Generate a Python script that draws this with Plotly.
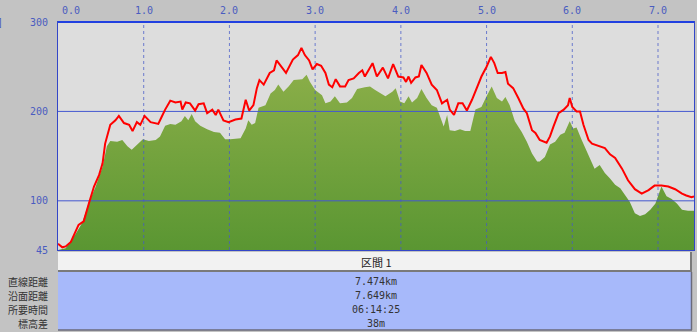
import plotly.graph_objects as go

# ---------------- data ----------------
red_km = [0.00, 0.05, 0.09, 0.15, 0.24, 0.30, 0.36, 0.42, 0.48, 0.52, 0.55, 0.61, 0.67, 0.71, 0.77, 0.83,
          0.87, 0.92, 0.96, 1.01, 1.08, 1.14, 1.17, 1.21, 1.25, 1.31, 1.37, 1.43, 1.45, 1.49, 1.54, 1.60,
          1.64, 1.70, 1.74, 1.80, 1.84, 1.87, 1.93, 1.99, 2.07, 2.14, 2.19, 2.23, 2.28, 2.32, 2.35, 2.40,
          2.47, 2.52, 2.55, 2.59, 2.66, 2.74, 2.80, 2.84, 2.88, 2.93, 2.97, 3.02, 3.07, 3.12, 3.16, 3.20,
          3.24, 3.29, 3.35, 3.39, 3.45, 3.51, 3.55, 3.58, 3.62, 3.67, 3.72, 3.79, 3.85, 3.91, 3.97, 4.03,
          4.06, 4.09, 4.12, 4.17, 4.21, 4.24, 4.30, 4.36, 4.42, 4.48, 4.54, 4.57, 4.62, 4.67, 4.72, 4.77,
          4.83, 4.89, 4.94, 5.00, 5.05, 5.09, 5.13, 5.18, 5.22, 5.25, 5.31, 5.37, 5.43, 5.47, 5.53, 5.57,
          5.62, 5.70, 5.74, 5.78, 5.84, 5.90, 5.95, 5.97, 6.00, 6.05, 6.09, 6.13, 6.19, 6.23, 6.32, 6.38,
          6.44, 6.50, 6.58, 6.65, 6.73, 6.81, 6.89, 6.96, 7.04, 7.12, 7.20, 7.28, 7.33, 7.39, 7.42]
red_alt = [52, 48, 49, 54, 73, 77, 97, 116, 129, 142, 164, 185, 190, 195, 187, 185,
           178, 188, 185, 195, 188, 187, 186, 194, 202, 212, 210, 211, 202, 210, 209, 201,
           208, 209, 198, 202, 196, 202, 190, 188, 191, 192, 213, 201, 207, 226, 235, 230,
           243, 246, 257, 252, 243, 258, 263, 271, 263, 257, 247, 253, 251, 243, 230, 227,
           236, 228, 228, 235, 237, 243, 246, 239, 246, 254, 239, 249, 237, 253, 239, 238,
           233, 239, 232, 238, 239, 252, 243, 230, 224, 209, 213, 202, 196, 209, 209, 201,
           213, 228, 239, 250, 261, 254, 243, 243, 244, 231, 226, 215, 203, 198, 179, 176,
           168, 165, 172, 183, 198, 202, 207, 215, 205, 200, 200, 185, 168, 164, 161, 159,
           152, 148, 136, 123, 113, 108, 112, 117, 117, 116, 113, 108, 106, 104, 105]

green_km = [0.00, 0.09, 0.20, 0.28, 0.36, 0.44, 0.52, 0.57, 0.61, 0.69, 0.75, 0.81, 0.86, 0.94, 0.99, 1.06,
            1.14, 1.19, 1.25, 1.31, 1.37, 1.44, 1.48, 1.52, 1.56, 1.60, 1.66, 1.74, 1.82, 1.89, 1.95, 2.01,
            2.13, 2.19, 2.22, 2.26, 2.30, 2.34, 2.42, 2.48, 2.53, 2.57, 2.63, 2.69, 2.75, 2.85, 2.90, 2.94,
            3.00, 3.08, 3.12, 3.18, 3.23, 3.29, 3.37, 3.43, 3.49, 3.58, 3.64, 3.70, 3.76, 3.82, 3.90, 3.94,
            3.99, 4.04, 4.09, 4.13, 4.19, 4.24, 4.30, 4.36, 4.42, 4.50, 4.54, 4.57, 4.63, 4.69, 4.75, 4.81,
            4.87, 4.94, 5.00, 5.06, 5.12, 5.18, 5.22, 5.27, 5.33, 5.41, 5.47, 5.53, 5.59, 5.62, 5.68, 5.74,
            5.80, 5.86, 5.91, 5.97, 6.01, 6.05, 6.11, 6.17, 6.23, 6.26, 6.32, 6.38, 6.44, 6.50, 6.56, 6.61,
            6.67, 6.73, 6.79, 6.85, 6.91, 6.97, 7.04, 7.10, 7.16, 7.22, 7.28, 7.35, 7.42]
green_alt = [45, 47, 62, 75, 98, 116, 138, 161, 167, 166, 168, 161, 157, 164, 169, 167,
             168, 172, 184, 186, 185, 189, 195, 190, 197, 189, 184, 180, 177, 176, 169, 169,
             170, 181, 190, 185, 187, 204, 207, 220, 224, 230, 222, 228, 235, 236, 241, 233,
             224, 218, 209, 211, 217, 209, 210, 215, 225, 227, 228, 224, 220, 217, 222, 226,
             211, 209, 217, 210, 215, 225, 215, 207, 204, 183, 196, 179, 178, 180, 178, 178,
             202, 205, 217, 228, 215, 211, 216, 207, 189, 177, 166, 153, 144, 144, 149, 163,
             166, 174, 176, 189, 181, 182, 168, 155, 144, 136, 140, 131, 125, 118, 114, 107,
             99, 86, 83, 85, 90, 97, 116, 105, 102, 97, 90, 89, 89]

x_ticks = [0, 1, 2, 3, 4, 5, 6, 7]
x_tick_labels = ["0.0", "1.0", "2.0", "3.0", "4.0", "5.0", "6.0", "7.0"]
y_ticks = [45, 100, 200, 300]
y_tick_labels = ["45", "100", "200", "300"]
y_grid = [100, 200]

section_title = "区間 1"
row_labels = ["直線距離", "沿面距離", "所要時間", "標高差"]
row_values = ["7.474km", "7.649km", "06:14:25", "38m"]

X_MAX = 7.42
Y_MIN, Y_MAX = 45, 300

# ---------------- layout helpers (pixel -> paper) ----------------
W, H = 697, 332
L, R, T, B = 58, 694, 22, 250
def px_x(p):
    return (p - L) / (R - L)
def px_y(p):
    return (B - p) / (B - T)

NUM_FONT = "DejaVu Sans Mono"
JP_FONT = "Noto Sans CJK JP"
BLUE = "#3346c8"
TICK_BLUE = "#4a5cc0"

fig = go.Figure()

# green terrain with vertical gradient
fig.add_trace(go.Scatter(
    x=green_km, y=green_alt, mode="lines", fill="tozeroy",
    line=dict(width=0, color="#7aa23e"),
    fillgradient=dict(type="vertical", start=Y_MIN, stop=260,
                      colorscale=[[0, "#5a9632"], [1, "#8eb04a"]]),
    hoverinfo="skip", showlegend=False,
))

# gridlines drawn above the terrain (built from tick arrays)
for v in x_ticks[1:]:
    fig.add_trace(go.Scatter(x=[v, v], y=[Y_MIN, Y_MAX], mode="lines",
                             line=dict(color="rgba(70,90,200,0.75)", width=1, dash="dot"),
                             hoverinfo="skip", showlegend=False))
for v in y_grid:
    fig.add_trace(go.Scatter(x=[0, X_MAX], y=[v, v], mode="lines",
                             line=dict(color="#4558d0", width=1),
                             hoverinfo="skip", showlegend=False))

# red track
fig.add_trace(go.Scatter(
    x=red_km, y=red_alt, mode="lines",
    line=dict(color="#ff0000", width=2),
    hoverinfo="skip", showlegend=False,
))

fig.update_layout(
    width=W, height=H,
    margin=dict(l=L, r=W - R, t=T, b=H - B, pad=0),
    paper_bgcolor="#c3c3c3",
    plot_bgcolor="#dddddd",
    showlegend=False,
    xaxis=dict(range=[0, X_MAX], showgrid=False, zeroline=False,
               showticklabels=False, ticks="",
               showline=True, linecolor=BLUE, linewidth=1, mirror=True),
    yaxis=dict(range=[Y_MIN, Y_MAX], showgrid=False, zeroline=False,
               tickvals=y_ticks, ticktext=y_tick_labels, ticks="",
               ticklabelstandoff=7,
               tickfont=dict(family=NUM_FONT, size=10, color=TICK_BLUE),
               showline=True, linecolor=BLUE, linewidth=1, mirror=True),
)

shapes = []
# thicker top border
shapes.append(dict(type="line", xref="paper", yref="paper", x0=0, x1=1,
                   y0=px_y(22), y1=px_y(22), line=dict(color="#2040e0", width=2)))
# section title band
shapes.append(dict(type="rect", xref="paper", yref="paper",
                   x0=px_x(58), x1=px_x(692), y0=px_y(271.5), y1=px_y(252),
                   fillcolor="#f2f2f2", line=dict(width=0), layer="above"))
shapes.append(dict(type="line", xref="paper", yref="paper", x0=px_x(58), x1=px_x(692),
                   y0=px_y(271), y1=px_y(271), line=dict(color="#7a7a7a", width=2), layer="above"))
shapes.append(dict(type="line", xref="paper", yref="paper", x0=px_x(691), x1=px_x(691),
                   y0=px_y(252), y1=px_y(272), line=dict(color="#7a7a7a", width=2), layer="above"))
# values band
shapes.append(dict(type="rect", xref="paper", yref="paper",
                   x0=px_x(58), x1=px_x(692), y0=px_y(330), y1=px_y(272),
                   fillcolor="#a7b9fa", line=dict(width=0), layer="above"))
shapes.append(dict(type="line", xref="paper", yref="paper", x0=px_x(58), x1=px_x(692),
                   y0=px_y(330), y1=px_y(330), line=dict(color="#6a6a7a", width=1.5), layer="above"))
shapes.append(dict(type="line", xref="paper", yref="paper", x0=px_x(691.5), x1=px_x(691.5),
                   y0=px_y(272), y1=px_y(330), line=dict(color="#6a6a7a", width=1.5), layer="above"))
fig.update_layout(shapes=shapes)

ann = []
# top x tick labels
for i, (v, lab) in enumerate(zip(x_ticks, x_tick_labels)):
    ann.append(dict(x=v, y=px_y(11), xref="x", yref="paper", text=lab, showarrow=False,
                    xanchor="left" if i == 0 else "center", yanchor="middle",
                    xshift=2 if i == 0 else 0,
                    font=dict(family=NUM_FONT, size=10, color=TICK_BLUE)))
# partially visible unit label
ann.append(dict(x=px_x(5), y=px_y(22), xref="paper", yref="paper", text="[m]", showarrow=False,
                xanchor="right", yanchor="middle",
                font=dict(family=NUM_FONT, size=10, color=TICK_BLUE)))
# section title
ann.append(dict(x=px_x(376), y=px_y(262), xref="paper", yref="paper", text=section_title,
                showarrow=False, xanchor="center", yanchor="middle",
                font=dict(family=JP_FONT, size=11, color="#222222")))
row_y = [281, 295, 309, 323]
for lab, val, yy in zip(row_labels, row_values, row_y):
    ann.append(dict(x=px_x(50), y=px_y(yy), xref="paper", yref="paper", text=lab,
                    showarrow=False, xanchor="right", yanchor="middle",
                    font=dict(family=JP_FONT, size=10, color="#333333")))
    ann.append(dict(x=px_x(376), y=px_y(yy), xref="paper", yref="paper", text=val,
                    showarrow=False, xanchor="center", yanchor="middle",
                    font=dict(family=NUM_FONT, size=10, color="#333333")))
fig.update_layout(annotations=ann)

fig.write_html(
    "out.html",
    config={"displayModeBar": False},
    post_script="document.body.style.margin='0';document.body.style.overflow='hidden';",
)
